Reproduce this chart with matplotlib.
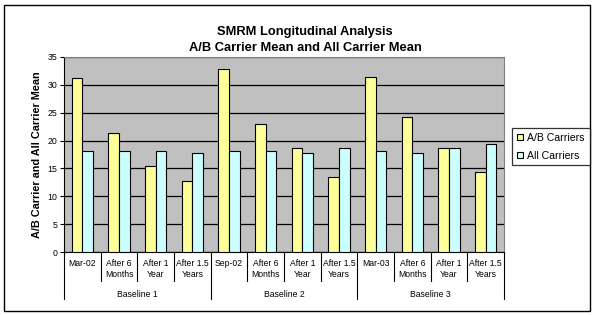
import numpy as np
import matplotlib
matplotlib.use("Agg")
import matplotlib.pyplot as plt
from matplotlib.patches import Rectangle, Patch

plt.rcParams['font.family'] = ['Liberation Sans', 'DejaVu Sans']

# data
groups = ['Baseline 1', 'Baseline 2', 'Baseline 3']
periods = [['Mar-02', 'After 6\nMonths', 'After 1\nYear', 'After 1.5\nYears'],
           ['Sep-02', 'After 6\nMonths', 'After 1\nYear', 'After 1.5\nYears'],
           ['Mar-03', 'After 6\nMonths', 'After 1\nYear', 'After 1.5\nYears']]
ab_carriers = [31.2, 21.3, 15.4, 12.7, 32.8, 22.9, 18.6, 13.4, 31.5, 24.2, 18.6, 14.3]
all_carriers = [18.1, 18.1, 18.1, 17.7, 18.1, 18.1, 17.7, 18.6, 18.1, 17.7, 18.6, 19.3]
series_names = ['A/B Carriers', 'All Carriers']
colors = ['#FFFF99', '#CCFFFF']

W, H = 595, 315
fig = plt.figure(figsize=(W / 100, H / 100), dpi=100)
ax = fig.add_axes([64 / W, 63 / H, 440 / W, 195 / H])
ax.set_facecolor('#C0C0C0')

x = np.arange(len(ab_carriers))
w = 0.29
ax.bar(x - w / 2, ab_carriers, w, color=colors[0], edgecolor='black', linewidth=0.8, zorder=3)
ax.bar(x + w / 2, all_carriers, w, color=colors[1], edgecolor='black', linewidth=0.8, zorder=3)

ax.set_xlim(-0.5, len(x) - 0.5)
ax.set_ylim(0, 35)
ax.set_yticks(np.arange(0, 36, 5))
ax.yaxis.grid(True, color='black', linewidth=0.9, zorder=1)
ax.set_axisbelow(True)
ax.tick_params(axis='y', labelsize=6.3, length=3, width=0.8, pad=2)
ax.set_xticks([])
for s in ax.spines.values():
    s.set_linewidth(0.8)
    s.set_color('black')
ax.spines['top'].set_color('#808080')
ax.spines['right'].set_color('#808080')

ax.set_ylabel('A/B Carrier and All Carrier Mean', fontsize=7.8, fontweight='bold', labelpad=4)

# two level category axis
tr = ax.get_xaxis_transform()
labels = [p for g in periods for p in g]
for i, lab in enumerate(labels):
    ax.text(i, -0.035, lab, transform=tr, ha='center', va='top', fontsize=6.2,
            linespacing=1.25, clip_on=False)
for i in range(len(labels) + 1):
    edge = i - 0.5
    depth = -0.241 if i % 4 == 0 else -0.149
    ax.plot([edge, edge], [0, depth], transform=tr, color='black', linewidth=0.8, clip_on=False)
for g, name in enumerate(groups):
    ax.text(g * 4 + 1.5, -0.22, name, transform=tr, ha='center', va='center', fontsize=6.2,
            clip_on=False)

# title
fig.text(305 / W, 1 - 31.7 / H, 'SMRM Longitudinal Analysis', ha='center', va='center',
         fontsize=9.3, fontweight='bold')
fig.text(305 / W, 1 - 48.3 / H, 'A/B Carrier Mean and All Carrier Mean', ha='center',
         va='center', fontsize=9.3, fontweight='bold')

# legend
handles = [Patch(facecolor=c, edgecolor='black', linewidth=0.8) for c in colors]
leg = fig.legend(handles, series_names, loc='upper left', bbox_to_anchor=(512 / W, 1 - 128 / H),
                 fontsize=7.6, frameon=True, fancybox=False, handlelength=0.6, handleheight=0.6,
                 handletextpad=0.4, borderpad=0.45, labelspacing=0.75, borderaxespad=0)
leg.get_frame().set_edgecolor('black')
leg.get_frame().set_linewidth(0.9)

# outer chart border
fig.patches.append(Rectangle((4 / W, 4 / H), 586 / W, 306 / H, transform=fig.transFigure,
                             fill=False, edgecolor='black', linewidth=1))

fig.savefig('out.png', dpi=100)
